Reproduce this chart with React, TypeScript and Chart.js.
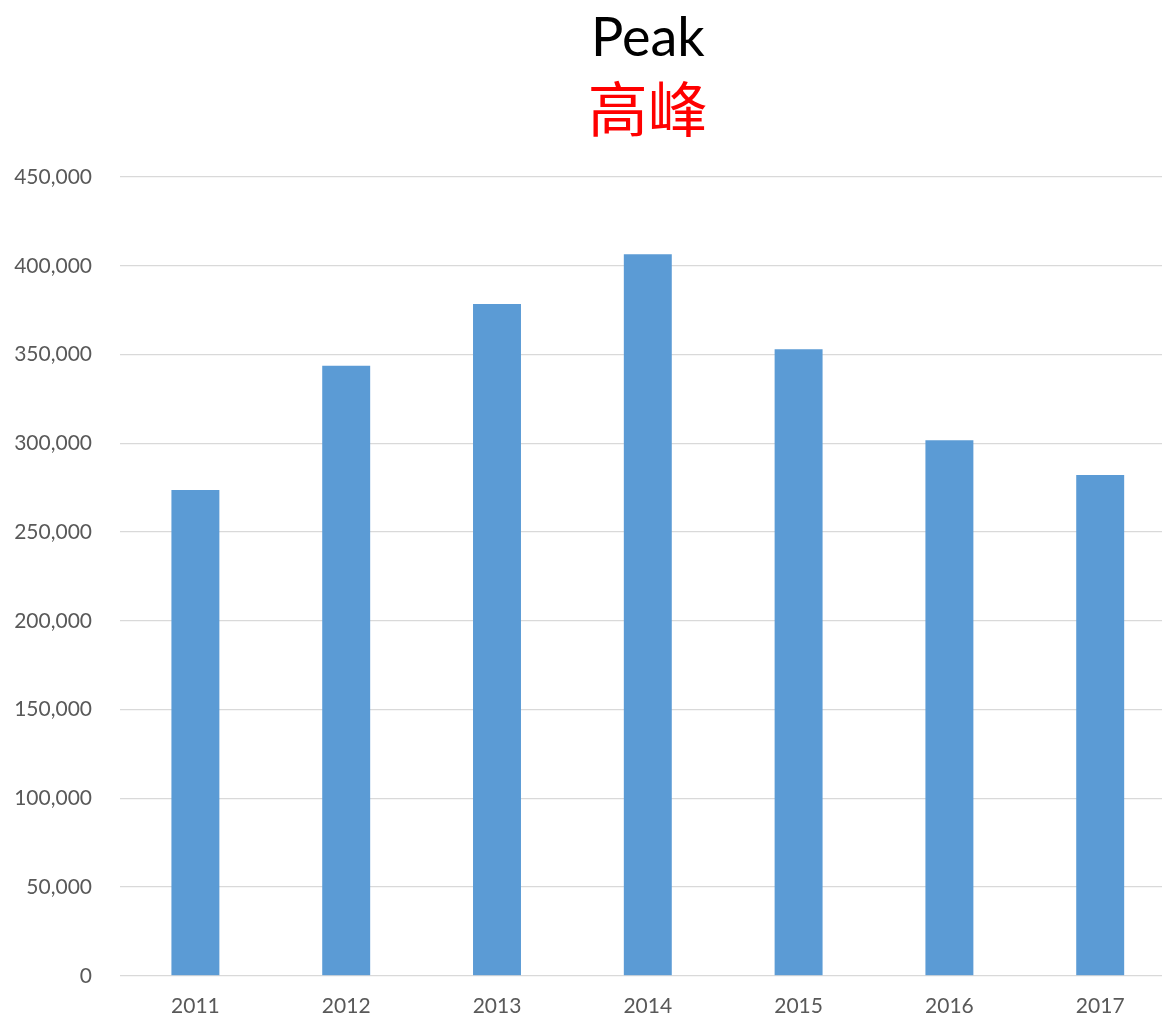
import React, { useEffect, useRef } from "react";
import { Chart, registerables } from "chart.js";

Chart.register(...registerables);

const categories = ["2011", "2012", "2013", "2014", "2015", "2016", "2017"];
const peakValues = [273700, 343600, 378400, 406500, 353000, 301700, 282100];
const yTicks = [0, 50000, 100000, 150000, 200000, 250000, 300000, 350000, 400000, 450000];
const titleText = "Peak";
const subtitleText = "高峰";

export default function App() {
  const ref = useRef<HTMLCanvasElement | null>(null);

  useEffect(() => {
    document.body.style.margin = "0";
    if (!ref.current) return;
    const chart = new Chart(ref.current, {
      type: "bar",
      data: {
        labels: categories,
        datasets: [
          {
            label: "Peak",
            data: peakValues,
            backgroundColor: "#5B9BD5",
            borderWidth: 0,
            categoryPercentage: 1,
            barPercentage: 0.318,
          },
        ],
      },
      options: {
        animation: false,
        responsive: true,
        maintainAspectRatio: false,
        layout: { padding: { left: 0, right: 24.4, top: 0, bottom: 0 } },
        plugins: {
          legend: { display: false },
          tooltip: { enabled: false },
          title: {
            display: true,
            text: titleText,
            color: "#000000",
            fullSize: false,
            font: { family: "Lato", size: 54, weight: "normal", lineHeight: 1 },
            padding: { top: 12, bottom: 0 },
          },
          subtitle: {
            display: true,
            text: subtitleText,
            color: "#FF0000",
            fullSize: false,
            font: { family: "Noto Sans CJK SC", size: 60, weight: "normal", lineHeight: 1 },
            padding: { top: 13.5, bottom: 37.5 },
          },
        },
        scales: {
          x: {
            grid: { display: false, drawTicks: false },
            border: { display: false },
            ticks: {
              color: "#595959",
              font: { family: "Lato", size: 21 },
              padding: 18,
            },
          },
          y: {
            min: 0,
            max: 450000,
            afterBuildTicks: (scale: any) => {
              scale.ticks = yTicks.map((v) => ({ value: v }));
            },
            afterFit: (scale: any) => {
              scale.width = 120;
            },
            grid: { color: "#D9D9D9", lineWidth: 1.3, drawTicks: false },
            border: { display: false },
            ticks: {
              color: "#595959",
              font: { family: "Lato", size: 21 },
              padding: 28,
              callback: (v: any) => Number(v).toLocaleString("en-US"),
            },
          },
        },
      },
    });
    return () => chart.destroy();
  }, []);

  return (
    <div style={{ position: "absolute", left: 0, top: 0, width: 1162, height: 1019, overflow: "hidden", background: "#fff" }}>
      <div style={{ position: "relative", width: 1200, height: 1037 }}>
        <canvas ref={ref} />
      </div>
    </div>
  );
}
